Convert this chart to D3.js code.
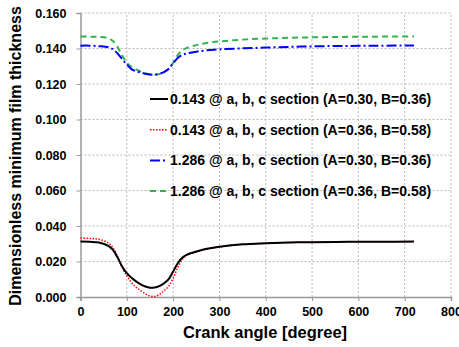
<!DOCTYPE html>
<html>
<head>
<meta charset="utf-8">
<script src="https://cdn.jsdelivr.net/npm/d3@7"></script>
<style>
  body { margin: 0; background: #fff; }
  text { font-family: "Liberation Sans", Arial, sans-serif; font-weight: bold; fill: #000; }
</style>
</head>
<body>
<div id="chart"></div>
<script>
// crank angle samples (degree)
var angles = [0, 20, 40, 60, 70, 80, 90, 100, 110, 120, 130, 140, 150, 160, 170, 180, 190, 200, 210, 220, 230, 250, 270, 300, 350, 400, 450, 500, 550, 600, 650, 720];

var black143 = [0.0312, 0.0311, 0.0307, 0.0288, 0.0265, 0.0222, 0.0172, 0.0134, 0.0108, 0.0088, 0.0071, 0.0059, 0.0052, 0.0053, 0.0061, 0.0077, 0.0099, 0.0143, 0.0190, 0.0222, 0.0239, 0.0256, 0.0270, 0.0283, 0.0297, 0.0303, 0.0307, 0.0309, 0.0310, 0.0311, 0.0311, 0.0312];
var red143 = [0.0332, 0.0330, 0.0325, 0.0304, 0.0278, 0.0228, 0.0165, 0.0120, 0.0082, 0.0055, 0.0036, 0.0019, 0.0006, 0.0003, 0.0014, 0.0034, 0.0060, 0.0105, 0.0166, 0.0212, 0.0235, 0.0254, 0.0268, 0.0282, 0.0296, 0.0303, 0.0307, 0.0309, 0.0310, 0.0311, 0.0311, 0.0312];
var blue1286 = [0.1416, 0.1416, 0.1413, 0.1407, 0.1396, 0.1372, 0.1340, 0.1310, 0.1284, 0.1272, 0.1265, 0.1258, 0.1253, 0.1253, 0.1257, 0.1267, 0.1285, 0.1316, 0.1346, 0.1364, 0.1372, 0.1382, 0.1389, 0.1395, 0.1401, 0.1405, 0.1409, 0.1412, 0.1414, 0.1415, 0.1416, 0.1417];
var green1286 = [0.1468, 0.1467, 0.1465, 0.1458, 0.1442, 0.1408, 0.1360, 0.1320, 0.1297, 0.1283, 0.1270, 0.1259, 0.1253, 0.1252, 0.1256, 0.1267, 0.1285, 0.1320, 0.1363, 0.1391, 0.1404, 0.1419, 0.1430, 0.1440, 0.1450, 0.1456, 0.1460, 0.1463, 0.1465, 0.1466, 0.1467, 0.1468];

var seriesNames = [
  "0.143 @ a, b, c section (A=0.30, B=0.36)",
  "0.143 @ a, b, c section (A=0.36, B=0.58)",
  "1.286 @ a, b, c section (A=0.30, B=0.36)",
  "1.286 @ a, b, c section (A=0.36, B=0.58)"
];
var xTicks = [0, 100, 200, 300, 400, 500, 600, 700, 800];
var yTicks = [0, 0.02, 0.04, 0.06, 0.08, 0.10, 0.12, 0.14, 0.16];

var width = 459
height = 347
margin = {top: 13, right: 8, bottom: 50, left: 80.5}

var svg = d3.select("#chart")
  .append("svg")
  .attr("width", width)
  .attr("height", height);

var x = d3.scaleLinear().domain([0, 800]).range([margin.left, width - margin.right]);
var y = d3.scaleLinear().domain([0, 0.16]).range([height - margin.bottom, margin.top]);

// dotted grid
svg.append("g")
  .selectAll("line")
  .data(xTicks.slice(1))
  .enter()
  .append("line")
  .attr("x1", d => x(d)).attr("x2", d => x(d))
  .attr("y1", y(0)).attr("y2", y(0.16))
  .attr("stroke", "#b8b8b8")
  .attr("stroke-dasharray", "2,2");

svg.append("g")
  .selectAll("line")
  .data(yTicks.slice(1))
  .enter()
  .append("line")
  .attr("x1", x(0)).attr("x2", x(800))
  .attr("y1", d => y(d)).attr("y2", d => y(d))
  .attr("stroke", "#b8b8b8")
  .attr("stroke-dasharray", "2,2");

// axes
var xAxis = svg.append("g")
  .attr("transform", "translate(0," + y(0) + ")")
  .call(d3.axisBottom(x).tickValues(xTicks).tickSize(4).tickPadding(6).tickFormat(d3.format("d")));
var yAxis = svg.append("g")
  .attr("transform", "translate(" + x(0) + ",0)")
  .call(d3.axisLeft(y).tickValues(yTicks).tickSize(4).tickPadding(10).tickFormat(d3.format(".3f")));

[xAxis, yAxis].forEach(a => {
  a.select(".domain").attr("stroke", "#999").attr("stroke-width", 1.5);
  a.selectAll(".tick line").attr("stroke", "#999");
  a.selectAll("text").attr("font-size", 12.5).style("font-family", "'Liberation Sans', Arial, sans-serif").style("font-weight", "bold");
});

// axis titles
svg.append("text")
  .attr("x", 265).attr("y", 338)
  .attr("text-anchor", "middle")
  .attr("font-size", 16.5)
  .text("Crank angle [degree]");

svg.append("text")
  .attr("transform", "translate(21," + 156 + ") rotate(-90)")
  .attr("text-anchor", "middle")
  .attr("font-size", 16)
  .text("Dimensionless minimum film thickness");

// series
var styles = [
  {values: black143, color: "#000000", dash: null, w: 2},
  {values: red143, color: "#ff0000", dash: "1.5,1.5", w: 1.5},
  {values: blue1286, color: "#0000ff", dash: "10,3,2,3", w: 2},
  {values: green1286, color: "#33b34f", dash: "6,4", w: 2}
];

var line = d3.line()
  .x(d => x(d[0]))
  .y(d => y(d[1]))
  .curve(d3.curveCatmullRom.alpha(0.5));

// draw in order so black sits on top of red like the reference
[1, 0, 3, 2].forEach(i => {
  var s = styles[i];
  svg.append("path")
    .datum(angles.map((a, j) => [a, s.values[j]]))
    .attr("d", line)
    .attr("fill", "none")
    .attr("stroke", s.color)
    .attr("stroke-width", s.w)
    .attr("stroke-dasharray", s.dash);
});

// legend
var legend = svg.append("g");
seriesNames.forEach((name, i) => {
  var ly = 99 + i * 30.7;
  legend.append("line")
    .attr("x1", 150).attr("x2", 168)
    .attr("y1", ly).attr("y2", ly)
    .attr("stroke", styles[i].color)
    .attr("stroke-width", styles[i].w)
    .attr("stroke-dasharray", styles[i].dash);
  legend.append("text")
    .attr("x", 170).attr("y", ly + 5)
    .attr("font-size", 14)
    .text(name);
});
</script>
</body>
</html>
